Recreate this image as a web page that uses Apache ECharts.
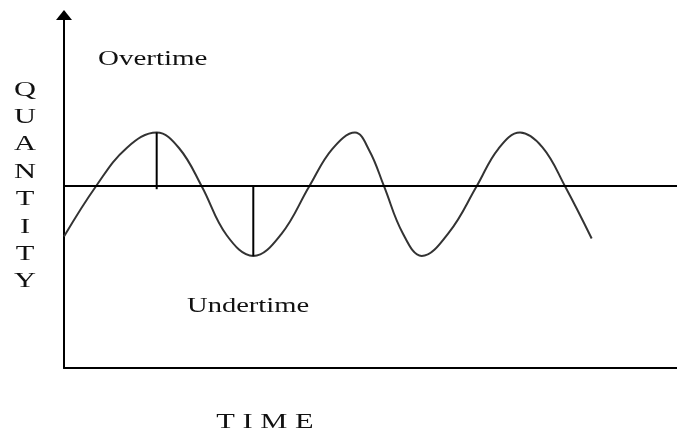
<!DOCTYPE html>
<html>
<head>
<meta charset="utf-8">
<script src="https://cdn.jsdelivr.net/npm/echarts@6/dist/echarts.min.js"></script>
<style>
html,body{margin:0;background:#fff}
#chart{width:677px;height:432px}
</style>
</head>
<body>
<div id="chart"></div>
<script>
/* data: time units along x, quantity relative to the level line */
const waveTime=[
0,5.22,10.23,15.12,18.79,22.46,26.54,30.88,35.45,
40.02,43.75,47.47,49.84,52.20,55.28,58.35,62.84,67.32,70.86,
74.39,78.06,81.73,86.08
];
const waveQty=[
-2.85,0,2.17,3.04,2.15,0,-2.78,-3.95,-2.71,
0,2.1,3.04,2.0,0,-2.68,-3.95,-2.6,0,2.12,
3.04,2.2,0,-2.96
];

const peakMark=[[15.12,3.04],[15.12,-0.17]];
const troughMark=[[30.88,0],[30.88,-3.95]];

const axisLetters=["Q","U","A","N","T","I","T","Y"];
const timeLabel="T I M E";


const serif='"Liberation Serif","DejaVu Serif",serif';


let chart=echarts.init(document.getElementById("chart"));


let texts=[];

texts.push({
type:"text",x:98,y:49,scaleX:1.38,
style:{text:"Overtime",font:"21px "+serif,fill:"#111",verticalAlign:"top"}
});

texts.push({
type:"text",x:187,y:296,scaleX:1.36,
style:{text:"Undertime",font:"21px "+serif,fill:"#111",verticalAlign:"top"}
});

axisLetters.forEach((c,i)=>{
texts.push({
type:"text",x:25,y:90+i*27.4,scaleX:1.45,
style:{text:c,font:"21px "+serif,fill:"#111",align:"center",verticalAlign:"middle"}
});
});

texts.push({
type:"text",x:265,y:422,scaleX:1.45,
style:{text:timeLabel,font:"21px "+serif,fill:"#111",align:"center",verticalAlign:"middle"}
});


let lineBlack={color:"#000",width:2};


chart.setOption({

animation:false,

grid:{left:64,right:0,top:15,bottom:64},

xAxis:{
type:"value",min:0,max:100,
axisLine:{show:true,onZero:false,lineStyle:lineBlack},
axisTick:{show:false},
axisLabel:{show:false},
splitLine:{show:false}
},

yAxis:{
type:"value",min:-10.3,max:9.7,
axisLine:{show:true,onZero:false,symbol:["none","triangle"],symbolSize:[16,10],lineStyle:lineBlack},
axisTick:{show:false},
axisLabel:{show:false},
splitLine:{show:false}
},

series:[

{
type:"line",
data:waveTime.map((t,i)=>[t,waveQty[i]]),
smooth:0.4,
symbol:"none",
lineStyle:{color:"#333",width:2},
markLine:{
silent:true,
symbol:"none",
label:{show:false},
lineStyle:{color:"#000",width:2,type:"solid"},
data:[{yAxis:0}]
}
},

{
type:"line",
data:peakMark,
symbol:"none",
lineStyle:lineBlack
},

{
type:"line",
data:troughMark,
symbol:"none",
lineStyle:lineBlack
}

],

graphic:texts

});
</script>
</body>
</html>
